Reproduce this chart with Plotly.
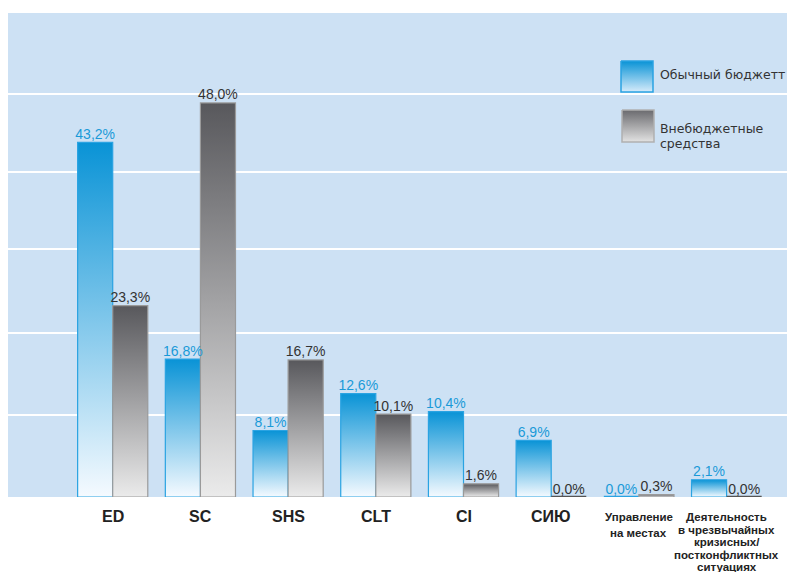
import plotly.graph_objects as go

# ---------------- data ----------------
categories = ["ED", "SC", "SHS", "CLT", "CI", "СИЮ",
              "Управление\nна местах",
              "Деятельность\nв чрезвычайных\nкризисных/\nпостконфликтных\nситуациях"]
regular_budget = [43.2, 16.8, 8.1, 12.6, 10.4, 6.9, 0.0, 2.1]
extra_budget = [23.3, 48.0, 16.7, 10.1, 1.6, 0.0, 0.3, 0.0]
series_names = ["Обычный бюджетт", "Внебюджетные\nсредства"]
grid_values = [10, 20, 30.2, 39.6, 49.1]

# ---------------- style ----------------
BG = "#cde1f4"
BLUE_TOP, BLUE_BOT, BLUE_EDGE, BLUE_TXT = "#0993d6", "#f5faff", "#2aa3e2", "#1a9ad8"
GRAY_TOP, GRAY_BOT, GRAY_EDGE, GRAY_TXT = "#58585c", "#ebebeb", "#9a9a9a", "#333333"
FONT = "Liberation Sans, Arial, sans-serif"
LEG_FONT = "DejaVu Sans, Liberation Sans, Arial, sans-serif"
BW = 0.4

fig = go.Figure()


def add_bar(i, v, offset, top, bot, edge):
    x0 = i + offset
    x1 = x0 + BW
    if v > 0:
        fig.add_trace(go.Scatter(
            x=[x0, x0, x1, x1, x0], y=[0, v, v, 0, 0], mode="lines", fill="toself",
            fillgradient=dict(type="vertical", colorscale=[[0, bot], [1, top]]),
            line=dict(color=edge, width=1.2), hoverinfo="skip", showlegend=False))
    else:
        fig.add_trace(go.Scatter(
            x=[x0, x1], y=[0, 0], mode="lines",
            line=dict(color=edge if top == BLUE_TOP else "#555555", width=2.5),
            hoverinfo="skip", showlegend=False))


def fmt(v):
    return f"{v:.1f}".replace(".", ",") + "%"


for i, (a, b) in enumerate(zip(regular_budget, extra_budget)):
    add_bar(i, a, -BW, BLUE_TOP, BLUE_BOT, BLUE_EDGE)
    add_bar(i, b, 0.0, GRAY_TOP, GRAY_BOT, GRAY_EDGE)

xs = list(range(len(categories)))
fig.add_trace(go.Scatter(
    x=[x - BW / 2 for x in xs], y=regular_budget, mode="text",
    text=[fmt(v) for v in regular_budget], textposition="top center",
    textfont=dict(family=FONT, size=14, color=BLUE_TXT),
    hoverinfo="skip", showlegend=False, cliponaxis=False))
fig.add_trace(go.Scatter(
    x=[x + BW / 2 for x in xs], y=extra_budget, mode="text",
    text=[fmt(v) for v in extra_budget], textposition="top center",
    textfont=dict(family=FONT, size=14, color=GRAY_TXT),
    hoverinfo="skip", showlegend=False, cliponaxis=False))

# ---------------- legend swatches (overlay pixel axes, y reversed) ----------------
swatches = [((621, 653, 61, 92), BLUE_TOP, "#d6ebfa", BLUE_EDGE),
            ((622, 654, 110, 142), "#6a6a6e", "#e2e2e2", "#b0b0b0")]
for (x0, x1, y0, y1), c_top, c_bot, e in swatches:
    fig.add_trace(go.Scatter(
        x=[x0, x0, x1, x1, x0], y=[y0, y1, y1, y0, y0], xaxis="x2", yaxis="y2",
        mode="lines", fill="toself",
        fillgradient=dict(type="vertical", colorscale=[[0, c_bot], [1, c_top]]),
        line=dict(color=e, width=1.5), hoverinfo="skip", showlegend=False))

annotations = []
legend_lines = [(series_names[0].split("\n"), 74.5), (series_names[1].split("\n"), 128.5)]
for lines, ystart in legend_lines:
    for k, ln in enumerate(lines):
        annotations.append(dict(
            x=658, y=ystart + 14.5 * k, xref="x2", yref="y2", text=ln, showarrow=False,
            xanchor="left", yanchor="middle",
            font=dict(family=LEG_FONT, size=12.5, color="#333333")))

# ---------------- category labels (paper y=0 is the baseline at page y 497) ----------------
BASE = 497
for i, cat in enumerate(categories):
    lines = cat.split("\n")
    if len(lines) == 1:
        annotations.append(dict(
            x=i, y=0, xref="x", yref="paper", yshift=-(516 - BASE),
            text=f"<b>{cat}</b>", showarrow=False, xanchor="center", yanchor="middle",
            font=dict(family=FONT, size=16, color="#222222")))
    else:
        step = 16 if len(lines) == 2 else 12.5
        for k, ln in enumerate(lines):
            annotations.append(dict(
                x=i, y=0, xref="x", yref="paper", yshift=-(517 + step * k - BASE),
                text=f"<b>{ln}</b>", showarrow=False, xanchor="center", yanchor="middle",
                font=dict(family=FONT, size=11.5, color="#222222")))

# page body has an 8px margin, so the figure is 787x564 with plot area at page (8..795, 13..497)
fig.update_layout(
    width=787, height=564,
    margin=dict(l=0, r=0, t=5, b=75, autoexpand=False),
    paper_bgcolor="white", plot_bgcolor=BG,
    showlegend=False,
    xaxis=dict(range=[-1.194, 7.78], showgrid=False, zeroline=False,
               showticklabels=False, ticks="", fixedrange=True),
    yaxis=dict(range=[0, 58.95], tickvals=grid_values, showgrid=True,
               gridcolor="white", gridwidth=1.6, zeroline=False,
               showticklabels=False, ticks="", fixedrange=True),
    xaxis2=dict(range=[8, 795], overlaying="x", visible=False, fixedrange=True),
    yaxis2=dict(range=[497, 13], overlaying="y", visible=False, fixedrange=True),
    annotations=annotations,
)

fig.write_html("out.html")
